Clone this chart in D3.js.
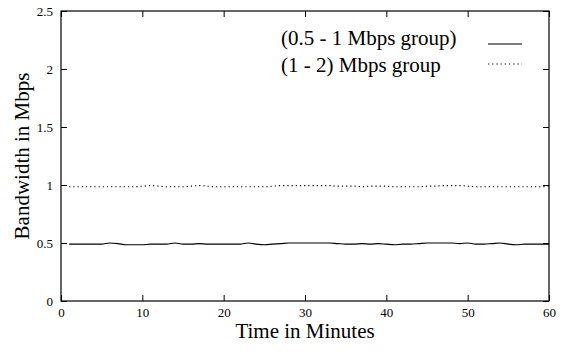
<!DOCTYPE html>
<html>
<head>
<meta charset="utf-8">
<script src="https://cdn.jsdelivr.net/npm/d3@7"></script>
<style>
    body { margin: 0; background: #fff; }
    #chart text { font-family: 'Times New Roman', Times, 'Liberation Serif', 'DejaVu Serif', serif !important; }
    #chart .tick text { font-size: 13px; }
</style>
</head>
<body>
<svg id="chart" width="563" height="352"></svg>
<script>
/*global window*/
var minutes = d3.range(1, 61);

var lowGroup = [
    0.49, 0.49, 0.49, 0.49, 0.49, 0.50, 0.495, 0.485, 0.485, 0.485,
    0.49, 0.49, 0.49, 0.50, 0.49, 0.49, 0.495, 0.49, 0.49, 0.49,
    0.49, 0.49, 0.50, 0.49, 0.485, 0.49, 0.495, 0.50, 0.50, 0.50,
    0.50, 0.50, 0.50, 0.495, 0.49, 0.49, 0.495, 0.49, 0.495, 0.49,
    0.485, 0.49, 0.49, 0.495, 0.50, 0.50, 0.50, 0.50, 0.495, 0.50,
    0.49, 0.49, 0.495, 0.50, 0.49, 0.485, 0.49, 0.49, 0.49, 0.49
];

var highGroup = [
    0.985, 0.985, 0.985, 0.985, 0.985, 0.985, 0.985, 0.985, 0.985, 0.99,
    0.995, 0.99, 0.985, 0.985, 0.985, 0.99, 0.995, 0.99, 0.985, 0.985,
    0.985, 0.985, 0.985, 0.985, 0.985, 0.99, 0.995, 0.995, 0.995, 0.995,
    0.995, 0.995, 0.995, 0.99, 0.99, 0.99, 0.985, 0.99, 0.99, 0.99,
    0.985, 0.985, 0.985, 0.985, 0.99, 0.99, 0.995, 0.995, 0.995, 0.99,
    0.985, 0.985, 0.985, 0.985, 0.985, 0.985, 0.985, 0.985, 0.985, 0.99
];

var xTicks = [0, 10, 20, 30, 40, 50, 60];
var yTicks = [0, 0.5, 1, 1.5, 2, 2.5];
var seriesNames = ['(0.5 - 1 Mbps group)', '(1 - 2) Mbps group'];

(function (d3) {
    'use strict';

    var SERIF = "'Liberation Serif', 'Times New Roman', Times, 'DejaVu Serif', serif",
        svg = d3.select('#chart'),
        margin = { left: 61, right: 14, top: 11, bottom: 51 },
        width = 563 - margin.left - margin.right,
        height = 352 - margin.top - margin.bottom,
        TICK_LEN = 6,
        plot,
        x,
        y,
        line,
        series,
        legend;

    x = d3.scaleLinear().domain([0, 60]).range([0, width]);
    y = d3.scaleLinear().domain([0, 2.5]).range([height, 0]);

    svg.attr('font-family', SERIF);

    plot = svg.append('g')
        .attr('transform', 'translate(' + margin.left + ',' + margin.top + ')');

    // gnuplot style: ticks inward, mirrored on the opposite side
    function styleAxis(g) {
        g.attr('font-family', SERIF);
        g.select('.domain').remove();
        g.selectAll('.tick line').attr('stroke', '#000').attr('stroke-width', 1);
        g.selectAll('.tick text').attr('fill', '#000').style('font-family', SERIF);
    }

    plot.append('g')
        .attr('transform', 'translate(0,' + height + ')')
        .call(d3.axisBottom(x).tickValues(xTicks).tickSizeInner(-TICK_LEN).tickSizeOuter(0).tickPadding(7))
        .call(styleAxis);

    plot.append('g')
        .call(d3.axisTop(x).tickValues(xTicks).tickSizeInner(-TICK_LEN).tickSizeOuter(0).tickFormat(''))
        .call(styleAxis);

    plot.append('g')
        .call(d3.axisLeft(y).tickValues(yTicks).tickSizeInner(-TICK_LEN).tickSizeOuter(0).tickPadding(8).tickFormat(d3.format('')))
        .call(styleAxis);

    plot.append('g')
        .attr('transform', 'translate(' + width + ',0)')
        .call(d3.axisRight(y).tickValues(yTicks).tickSizeInner(-TICK_LEN).tickSizeOuter(0).tickFormat(''))
        .call(styleAxis);

    plot.append('rect')
        .attr('width', width)
        .attr('height', height)
        .attr('fill', 'none')
        .attr('stroke', '#000')
        .attr('stroke-width', 1.2);

    line = d3.line()
        .x(function (d, i) { return x(minutes[i]); })
        .y(function (d) { return y(d); })
        .curve(d3.curveMonotoneX);

    series = [
        { values: lowGroup, dash: null },
        { values: highGroup, dash: '1.2,3' }
    ];

    plot.selectAll('.series')
        .data(series)
        .enter()
        .append('path')
        .attr('class', 'series')
        .attr('d', function (d) { return line(d.values); })
        .attr('fill', 'none')
        .attr('stroke', '#000')
        .attr('stroke-width', 1.1)
        .attr('stroke-dasharray', function (d) { return d.dash; });

    legend = svg.append('g').attr('class', 'legend');

    legend.selectAll('text')
        .data(seriesNames)
        .enter()
        .append('text')
        .attr('x', 281)
        .attr('y', function (d, i) { return 45 + i * 27; })
        .attr('font-size', 21)
        .style('font-family', SERIF)
        .text(function (d) { return d; });

    legend.selectAll('line')
        .data(series)
        .enter()
        .append('line')
        .attr('x1', 488)
        .attr('x2', 522)
        .attr('y1', function (d, i) { return 44 + i * 20; })
        .attr('y2', function (d, i) { return 44 + i * 20; })
        .attr('stroke', '#000')
        .attr('stroke-width', 1.1)
        .attr('stroke-dasharray', function (d) { return d.dash; });

    svg.append('text')
        .attr('x', margin.left + width / 2)
        .attr('y', 338)
        .attr('text-anchor', 'middle')
        .attr('font-size', 21)
        .style('font-family', SERIF)
        .text('Time in Minutes');

    svg.append('text')
        .attr('transform', 'translate(29,' + (margin.top + height / 2) + ') rotate(-90)')
        .attr('text-anchor', 'middle')
        .attr('font-size', 21)
        .style('font-family', SERIF)
        .text('Bandwidth in Mbps');
}(window.d3));
</script>
</body>
</html>
